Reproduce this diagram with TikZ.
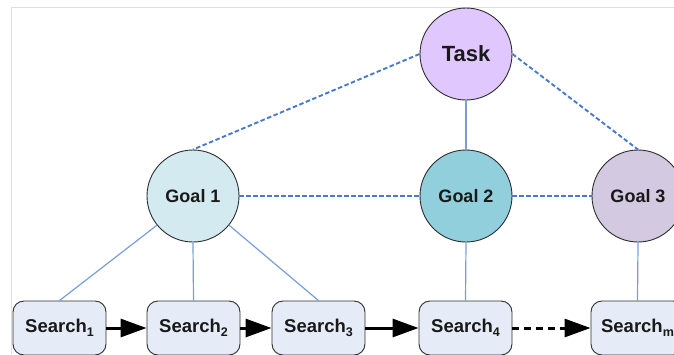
\documentclass[tikz,border=0pt]{standalone}
\usepackage{fontspec}
\setmainfont{Liberation Sans}
\usetikzlibrary{arrows.meta}

\definecolor{taskfill}{RGB}{224,200,255}
\definecolor{goalAfill}{RGB}{211,235,240}
\definecolor{goalBfill}{RGB}{146,207,220}
\definecolor{goalCfill}{RGB}{211,201,224}
\definecolor{searchfill}{RGB}{230,236,247}
\definecolor{linkblue}{RGB}{120,158,218}
\definecolor{dashblue}{RGB}{72,122,204}
\definecolor{framegray}{RGB}{222,222,222}
\definecolor{inkdark}{RGB}{25,25,25}
\definecolor{edgegray}{RGB}{45,45,45}

\newcommand{\sub}[1]{\raisebox{-0.2em}{\fontsize{12.5}{12.5}\selectfont #1}}

\tikzset{
  bubble/.style={circle, draw=edgegray, line width=0.9pt, minimum size=92pt,
    inner sep=0pt, text=inkdark, font=\fontsize{18}{20}\selectfont\bfseries},
  taskbubble/.style={bubble, fill=taskfill, font=\fontsize{22}{24}\selectfont\bfseries},
  searchbox/.style={rectangle, rounded corners=11pt, draw=edgegray, line width=0.9pt,
    fill=searchfill, minimum width=93pt, minimum height=54pt, inner sep=0pt,
    text=inkdark, font=\fontsize{18.5}{20}\selectfont\bfseries},
  link/.style={draw=linkblue, line width=1.2pt},
  dashlink/.style={draw=dashblue, line width=1.9pt, dash pattern=on 4.5pt off 2.5pt},
  flow/.style={draw=black, line width=3pt, -{Triangle[length=26pt,width=18pt]}},
  dashflow/.style={flow, dash pattern=on 7pt off 5pt}
}

\begin{document}
\begin{tikzpicture}[x=1pt, y=-1pt]
  \useasboundingbox (0,0) rectangle (674,354);
  \clip (0,0) rectangle (674,354);

  % thin frame along the top and left
  \draw[framegray, line width=1pt] (11,354) -- (11,7) -- (674,7);

  % task and goals
  \node[taskbubble] (task) at (466,54) {Task};
  \node[bubble, fill=goalAfill] (g1) at (193,196) {Goal 1};
  \node[bubble, fill=goalBfill] (g2) at (466,196) {Goal 2};
  \node[bubble, fill=goalCfill] (g3) at (638,196) {Goal 3};

  % search steps
  \node[searchbox] (s1) at (59.5,328) {Search\sub{1}};
  \node[searchbox] (s2) at (193.5,328) {Search\sub{2}};
  \node[searchbox] (s3) at (318.5,328) {Search\sub{3}};
  \node[searchbox] (s4) at (465.5,328) {Search\sub{4}};
  \node[searchbox] (sm) at (637.5,328) {Search\sub{m}};

  % hierarchy links
  \draw[link] (task.south) -- (g2.north);
  \draw[link] (g1.219) -- (s1.north);
  \draw[link] (g1.south) -- (s2.north);
  \draw[link] (g1.321) -- (s3.north);
  \draw[link] (g2.south) -- (s4.north);
  \draw[link] (g3.south) -- (sm.north);

  % dashed relations
  \draw[dashlink] (task.west) -- (g1.north);
  \draw[dashlink] (task.east) -- (g3.north);
  \draw[dashlink] (g1.east) -- (g2.west);
  \draw[dashlink] (g2.east) -- (g3.west);

  % search sequence
  \draw[flow] (s1.east) -- (s2.west);
  \draw[flow] (s2.east) -- (s3.west);
  \draw[flow] (s3.east) -- (s4.west);
  \draw[dashflow] (s4.east) -- (sm.west);
\end{tikzpicture}
\end{document}
